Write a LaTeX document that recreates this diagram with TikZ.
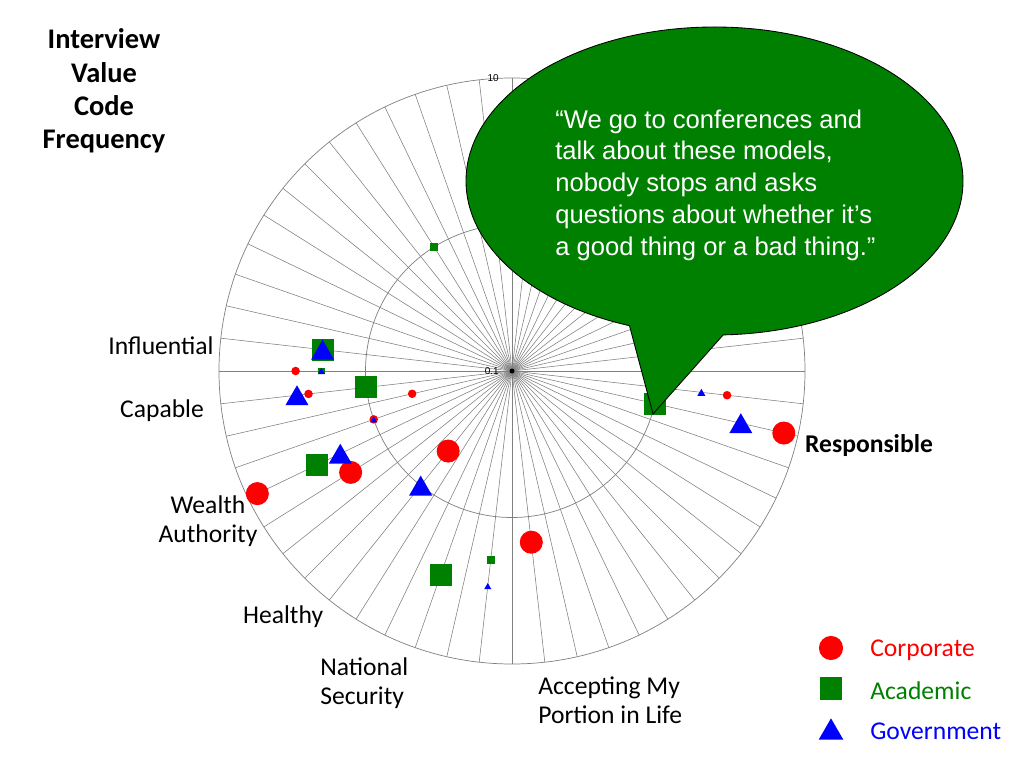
\documentclass[tikz,border=0pt]{standalone}
\usepackage{fontspec}
\setmainfont{Carlito}
\newfontfamily\arialfont{Liberation Sans}
\usetikzlibrary{shapes.geometric}
\definecolor{acadgreen}{RGB}{0,128,0}
\begin{document}
\begin{tikzpicture}[x=0.703125pt, y=0.703125pt,
	corp/.style={circle, fill=red, inner sep=0pt, minimum size=#1},
	acad/.style={rectangle, fill=acadgreen, inner sep=0pt, minimum size=#1},
	gov/.style={regular polygon, regular polygon sides=3, fill=blue, inner sep=0pt, minimum size=#1, yshift=-#1/8},
	lbl/.style={font=\fontsize{18}{20.5}\selectfont, inner sep=0pt},
	axis/.style={font=\arialfont\fontsize{7}{8}\selectfont, inner sep=0pt, anchor=east}]
		\useasboundingbox (0,0) rectangle (1024,-768);
		\begin{scope}[shift={(512,-371)}]
		\foreach \k in {0,...,55}
			\draw[gray, line width=0.4pt] (0,0) -- ({\k*45/7}:293);
		\draw[gray, line width=0.5pt] (0,0) circle (146.5) (0,0) circle (293);
		\fill[black] (0,0) circle (2.5);
		\node[axis] (low) at (-13,0) {0.1};
		\node[axis] (high) at (-13,293) {10};
		\foreach \k/\v/\s [count=\i] in {-2/8/16.2pt, -1/3/6pt, 28/3/6pt, 29/2.5/6pt, 30/0.5/6pt, 31/1/6pt, 32/8.5/16.2pt, 33/2/16.2pt, 36/0.5/16.2pt, 43/1.5/16.2pt}
			\node[corp=\s] (corp\i) at ({\k*45/7}:{146.5*(1+log10(\v))}) {};
		\foreach \k/\v/\s [count=\i] in {-2/1/15.5pt, 19/1/5.6pt, 27/2/15.5pt, 28/2/4.6pt, 29/1/15.5pt, 32/3/15.5pt, 39/3/15.5pt, 41/2/5.6pt}
			\node[acad=\s] (acad\i) at ({\k*45/7}:{146.5*(1+log10(\v))}) {};
		\foreach \k/\v/\s [count=\i] in {-2/4/18.7pt, -1/2/6.5pt, 27/2/18.7pt, 28/2/5.7pt, 29/3/18.7pt, 31/1/5.7pt, 32/2/18.7pt, 36/1/18.7pt, 41/3/5.7pt}
			\node[gov=\s] (gov\i) at ({\k*45/7}:{146.5*(1+log10(\v))}) {};
		\end{scope}
		\coordinate (bubble) at (714.5,-181);
		\coordinate (tip) at (653,-414);
		\draw[fill=acadgreen, line width=0.6pt] ([shift={(bubble)}]272:248.5 and 154) arc[start angle=272, end angle=610, x radius=248.5, y radius=154] -- (tip) -- cycle;
		\node[font=\arialfont\fontsize{18}{22.3}\selectfont, text=white, align=left, anchor=west, inner sep=0pt] (quote) at (555,-185) {“We go to conferences and\\talk about these models,\\nobody stops and asks\\questions about whether it’s\\a good thing or a bad thing.”};
		\node[font=\bfseries\fontsize{20}{23.4}\selectfont, align=center] (title) at (104,-91) {Interview\\Value\\Code\\Frequency};
		\foreach \coord/\label [count=\xi] in {
			{161,-346}/{Influential},
			{162,-411}/{Capable},
			{208,-521}/{Wealth\\Authority},
			{286,-617}/{Healthy}
		}{
		\node[lbl, align=center] (cat\xi) at (\coord) {\label};
		}
		\node[lbl, align=left, anchor=west] (security) at (320,-683) {National\\Security};
		\node[lbl, align=left, anchor=west] (portion) at (538,-700) {Accepting My\\Portion in Life};
		\node[lbl, font=\bfseries\fontsize{18}{20.5}\selectfont] (responsible) at (869,-446) {Responsible};
		\foreach \mark/\name/\col/\s [count=\i] in {corp/Corporate/red/17pt, acad/Academic/acadgreen/16pt, gov/Government/blue/20pt}{
		\pgfmathsetmacro\ypos{-648-40.5*(\i-1)}
		\node[\mark=\s] (\mark key) at (831,\ypos) {};
		\node[lbl, anchor=west, text=\col] (\mark name) at (870,\ypos-2) {\name};
		}
		\end{tikzpicture}
\end{document}
